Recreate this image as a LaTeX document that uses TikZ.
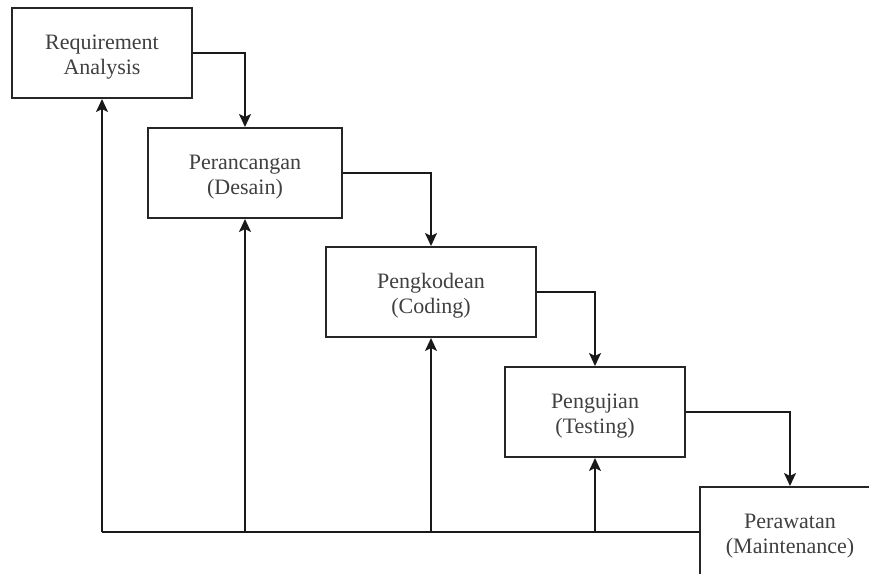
\documentclass[tikz,border=0pt]{standalone}
\usepackage{fontspec}
\setmainfont{Liberation Serif}
\usetikzlibrary{arrows.meta}
% two centred lines, set a little below the box centre
\newcommand{\phaselabel}[2]{\raisebox{-4pt}[\height][\depth]{\begin{tabular}{@{}c@{}}#1\\#2\end{tabular}}}
\begin{document}
\begin{tikzpicture}[x=1pt,y=-1pt,
  phase/.style={draw=black!85, line width=2pt, fill=white,
    text=black!75, font=\fontsize{22}{25}\selectfont, inner sep=0pt},
  flow/.style={draw=black!90, line width=2pt,
    -{Stealth[length=13pt,width=12pt,inset=3pt]}},
  back/.style={draw=black!90, line width=2pt}]
  \useasboundingbox (0,0) rectangle (869,573);
  \clip (0,0) rectangle (869,573);
  \fill[white] (0,0) rectangle (869,573);

  % waterfall phases
  \node[phase, minimum width=180pt, minimum height=90pt] (req) at (102,53) {\phaselabel{Requirement}{Analysis}};
  \node[phase, minimum width=194pt, minimum height=90pt] (des) at (245,173) {\phaselabel{Perancangan}{(Desain)}};
  \node[phase, minimum width=210pt, minimum height=90pt] (cod) at (431,292) {\phaselabel{Pengkodean}{(Coding)}};
  \node[phase, minimum width=180pt, minimum height=90pt] (tst) at (595,412) {\phaselabel{Pengujian}{(Testing)}};
  \node[phase, minimum width=180pt, minimum height=90pt] (mnt) at (790,532) {\phaselabel{Perawatan}{(Maintenance)}};

  % forward flow between phases
  \draw[flow] (req.east) -| (des.north);
  \draw[flow] (des.east) -| (cod.north);
  \draw[flow] (cod.east) -| (tst.north);
  \draw[flow] (tst.east) -| (mnt.north);

  % feedback line back to every earlier phase
  \coordinate (jreq) at (req.south |- mnt.west);
  \coordinate (jdes) at (des.south |- mnt.west);
  \coordinate (jcod) at (cod.south |- mnt.west);
  \coordinate (jtst) at (tst.south |- mnt.west);
  \draw[back] (mnt.west) -- (jreq);
  \draw[flow] (jreq) -- (req.south);
  \draw[flow] (jdes) -- (des.south);
  \draw[flow] (jcod) -- (cod.south);
  \draw[flow] (jtst) -- (tst.south);
\end{tikzpicture}
\end{document}
